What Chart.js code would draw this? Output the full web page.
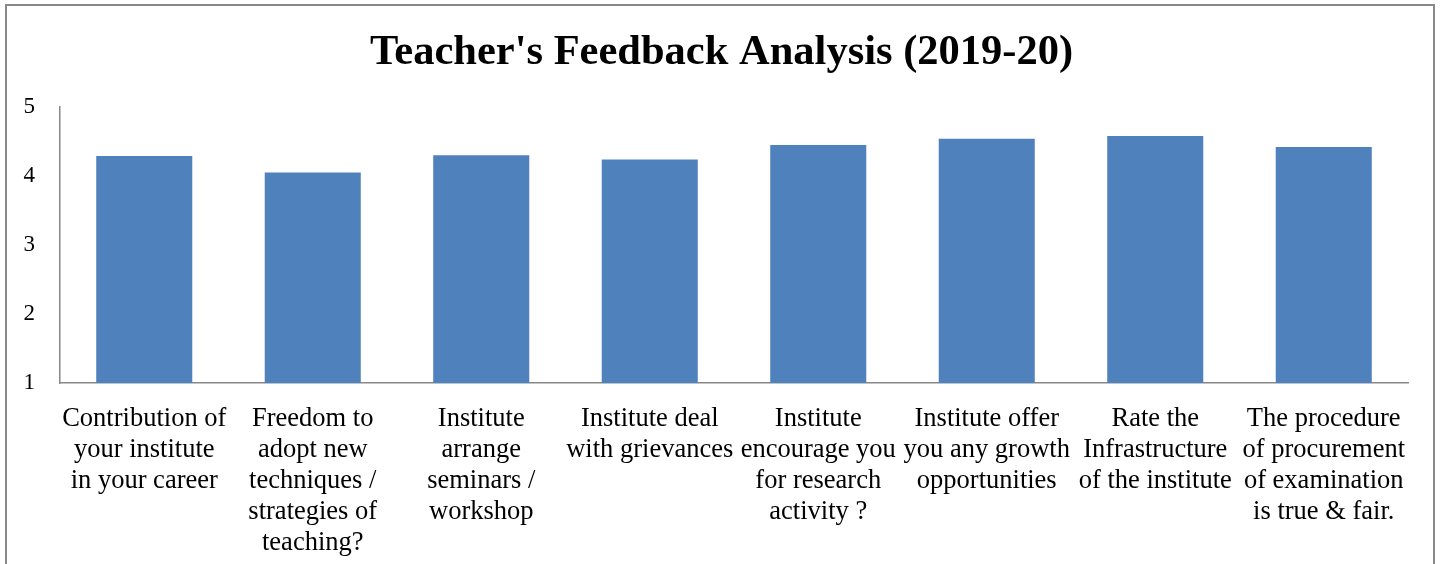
<!DOCTYPE html>
<html>
<head>
<meta charset="utf-8">
<script src="https://cdn.jsdelivr.net/npm/chart.js@4/dist/chart.umd.min.js"></script>
<style>
    html, body { margin: 0; padding: 0; background: #fff; overflow: hidden; }
    #wrap { position: relative; width: 1443px; height: 564px; }
    #frame { position: absolute; left: 5px; top: 4px; width: 1430px; height: 600px; border: 2px solid #888; box-sizing: border-box; pointer-events: none; }
    canvas { position: absolute; left: 0; top: 0; }
</style>
</head>
<body>
<div id="wrap">
    <canvas id="feedbackChart" width="1443" height="564"></canvas>
    <div id="frame"></div>
</div>
<script>
    // Chart data
    const questions = [
        ['Contribution of', 'your institute', 'in your career'],
        ['Freedom to', 'adopt new', 'techniques /', 'strategies of', 'teaching?'],
        ['Institute', 'arrange', 'seminars /', 'workshop'],
        ['Institute deal', 'with grievances'],
        ['Institute', 'encourage you', 'for research', 'activity ?'],
        ['Institute offer', 'you any growth', 'opportunities'],
        ['Rate the', 'Infrastructure', 'of the institute'],
        ['The procedure', 'of procurement', 'of examination', 'is true & fair.']
    ];
    const ratings = [4.29, 4.05, 4.30, 4.24, 4.45, 4.54, 4.58, 4.42];
    const yTicks = [1, 2, 3, 4, 5];

    const serif = "'Liberation Serif', 'Times New Roman', serif";

    const ctx = document.getElementById('feedbackChart').getContext('2d');
    const feedbackChart = new Chart(ctx, {
        type: 'bar',
        data: {
            labels: questions,
            datasets: [{
                label: 'Rating',
                data: ratings,
                backgroundColor: '#4F81BD',
                borderWidth: 0,
                barPercentage: 1,
                categoryPercentage: 0.57
            }]
        },
        options: {
            responsive: false,
            animation: false,
            layout: {
                padding: 0
            },
            plugins: {
                legend: { display: false },
                tooltip: { enabled: false },
                title: {
                    display: true,
                    text: "Teacher's Feedback Analysis (2019-20)",
                    color: '#000',
                    font: { family: serif, size: 42.5, weight: 'bold', lineHeight: 1.2 },
                    padding: { top: 28, bottom: 28 }
                }
            },
            scales: {
                x: {
                    grid: { display: false, drawTicks: false },
                    border: { display: true, color: '#888', width: 1.5 },
                    ticks: {
                        color: '#000',
                        font: { family: serif, size: 26.5, lineHeight: 1.17 },
                        maxRotation: 0,
                        autoSkip: false,
                        padding: 21
                    },
                    afterFit: (scale) => { scale.height = 181; }
                },
                y: {
                    min: 1,
                    max: 5,
                    grid: { display: false, drawTicks: false },
                    border: { display: true, color: '#888', width: 1.5 },
                    afterBuildTicks: (scale) => {
                        scale.ticks = yTicks.map(v => ({ value: v }));
                    },
                    ticks: {
                        color: '#000',
                        font: { family: serif, size: 23 },
                        padding: 25
                    },
                    afterFit: (scale) => { scale.width = 60; }
                },
                // empty right-hand spacer so the plot ends where the reference does
                spacer: {
                    type: 'linear',
                    position: 'right',
                    grid: { display: false, drawTicks: false },
                    border: { display: false },
                    ticks: { display: false },
                    afterFit: (scale) => { scale.width = 35; }
                }
            }
        }
    });
</script>
</body>
</html>
